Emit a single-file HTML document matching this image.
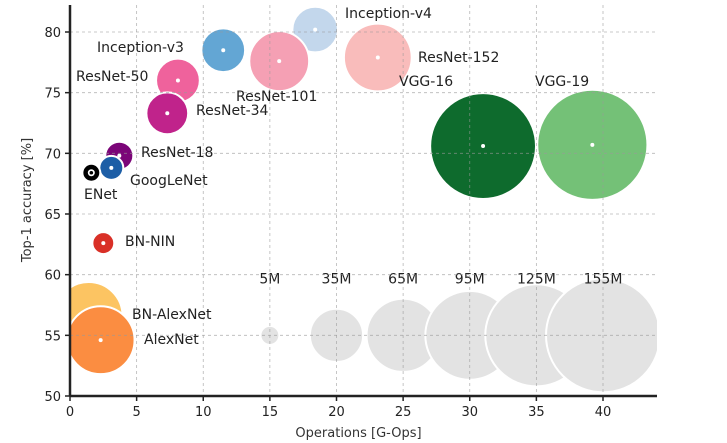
<!DOCTYPE html>
<html><head><meta charset="utf-8"><style>
html,body{margin:0;padding:0;background:#fff;}
svg{display:block;font-family:"DejaVu Sans","Liberation Sans",sans-serif;}
</style></head><body>
<svg id="chart" width="727" height="443"></svg>
<script>
const models = ["Inception-v4","ResNet-152","VGG-16","VGG-19","Inception-v3","ResNet-101","ResNet-50","ResNet-34","ResNet-18","GoogLeNet","ENet","BN-NIN","BN-AlexNet","AlexNet"];
const ops = [18.4,23.1,31.0,39.2,11.5,15.7,8.1,7.3,3.7,3.1,1.6,2.5,1.4,2.3];
const acc = [80.2,77.9,70.6,70.7,78.5,77.6,76.0,73.3,69.8,68.8,68.4,62.6,56.6,54.6];
const params = [26,56,134,145,24,44,24,22,10.3,7.7,4.5,6.5,56,56];
const colors = ["#c3d7ec","#f9bcbb","#0e6b2d","#74c177","#63a6d4","#f5a0b4","#ef629c","#c0238b","#7b0578","#1d5ea6","#000000","#d93027","#fcc462","#fb8d41"];
const labX = [345,418,399,535,97,236,76,196,141,130,84,125,132,144];
const labY = [18,62,86,86,52,101,81,115,157,185,199,246,319,344];
const refLabels = ["5M","35M","65M","95M","125M","155M"];
const refParams = [5,35,65,95,125,155];
const refOps = [15,20,25,30,35,40];
const xTicks = [0,5,10,15,20,25,30,35,40];
const yTicks = [50,55,60,65,70,75,80];

const NS="http://www.w3.org/2000/svg";
const svg=document.getElementById('chart');
const L=70,R=657,T=5,B=396;
const xs=v=>L+(v-0)*(603-70)/40;
const ys=v=>B-(v-50)*(396-32)/30;
const rs=p=>4.65*Math.sqrt(p)-1.9+1;
function el(t,a,p){const e=document.createElementNS(NS,t);for(const k in a)e.setAttribute(k,a[k]);(p||svg).appendChild(e);return e;}

const defs=el('defs',{});
const cp=el('clipPath',{id:'plot'},defs);
el('rect',{x:L,y:T,width:R-L,height:B-T},cp);

const gc=el('g',{'clip-path':'url(#plot)'});



refOps.forEach((o,i)=>{
  const c=el('circle',{cx:xs(o),cy:ys(55),r:rs(refParams[i]),fill:'#e3e3e3',stroke:'#fff','stroke-width':2},gc);
  
  
  const t=el('text',{x:xs(o),y:ys(60)+9,'text-anchor':'middle','font-size':14,fill:'#222'});
  t.textContent=refLabels[i];
  
  
});

models.forEach((m,i)=>{
  const c=el('circle',{cx:xs(ops[i]),cy:ys(acc[i]),r:rs(params[i]),fill:colors[i],stroke:'#fff','stroke-width':2},gc);
  
  
  if(m==="ENet"){el('circle',{cx:xs(ops[i]),cy:ys(acc[i]),r:3.5,fill:'#fff'},gc);el('circle',{cx:xs(ops[i]),cy:ys(acc[i]),r:1.8,fill:'#000'},gc);}
  else el('circle',{cx:xs(ops[i]),cy:ys(acc[i]),r:2,fill:'#fff'},gc);
});

xTicks.forEach(v=>{
  if(v>0){const g=el('line',{x1:xs(v),x2:xs(v),y1:T,y2:B,stroke:'#999','stroke-width':0.8,'stroke-dasharray':'3,3',opacity:0.7});
  }
  el('line',{x1:xs(v),x2:xs(v),y1:B,y2:B+5,stroke:'#222','stroke-width':1.5});
  const t=el('text',{x:xs(v),y:B+20,'text-anchor':'middle','font-size':13,fill:'#222'});t.textContent=v;
  
});
yTicks.forEach(v=>{
  if(v>50){const g=el('line',{x1:L,x2:R,y1:ys(v),y2:ys(v),stroke:'#999','stroke-width':0.8,'stroke-dasharray':'3,3',opacity:0.7});
  }
  el('line',{x1:L-5,x2:L,y1:ys(v),y2:ys(v),stroke:'#222','stroke-width':1.5});
  const t=el('text',{x:L-9,y:ys(v)+5,'text-anchor':'end','font-size':13,fill:'#222'});t.textContent=v;
  
});

models.forEach((m,i)=>{
  const t=el('text',{x:labX[i],y:labY[i],'font-size':14,fill:'#222'});t.textContent=m;
  
  
});

const ax=el('line',{x1:L,x2:L,y1:T,y2:B,stroke:'#222','stroke-width':2.5});

const axx=el('line',{x1:L,x2:R,y1:B,y2:B,stroke:'#222','stroke-width':2.5});


const xt=el('text',{x:(L+R)/2-5,y:437,'text-anchor':'middle','font-size':13,fill:'#333'});xt.textContent='Operations [G-Ops]';

const yt=el('text',{x:0,y:0,'text-anchor':'middle','font-size':13,fill:'#333',transform:'translate(31,200) rotate(-90)'});yt.textContent='Top-1 accuracy [%]';

</script>
</body></html>
